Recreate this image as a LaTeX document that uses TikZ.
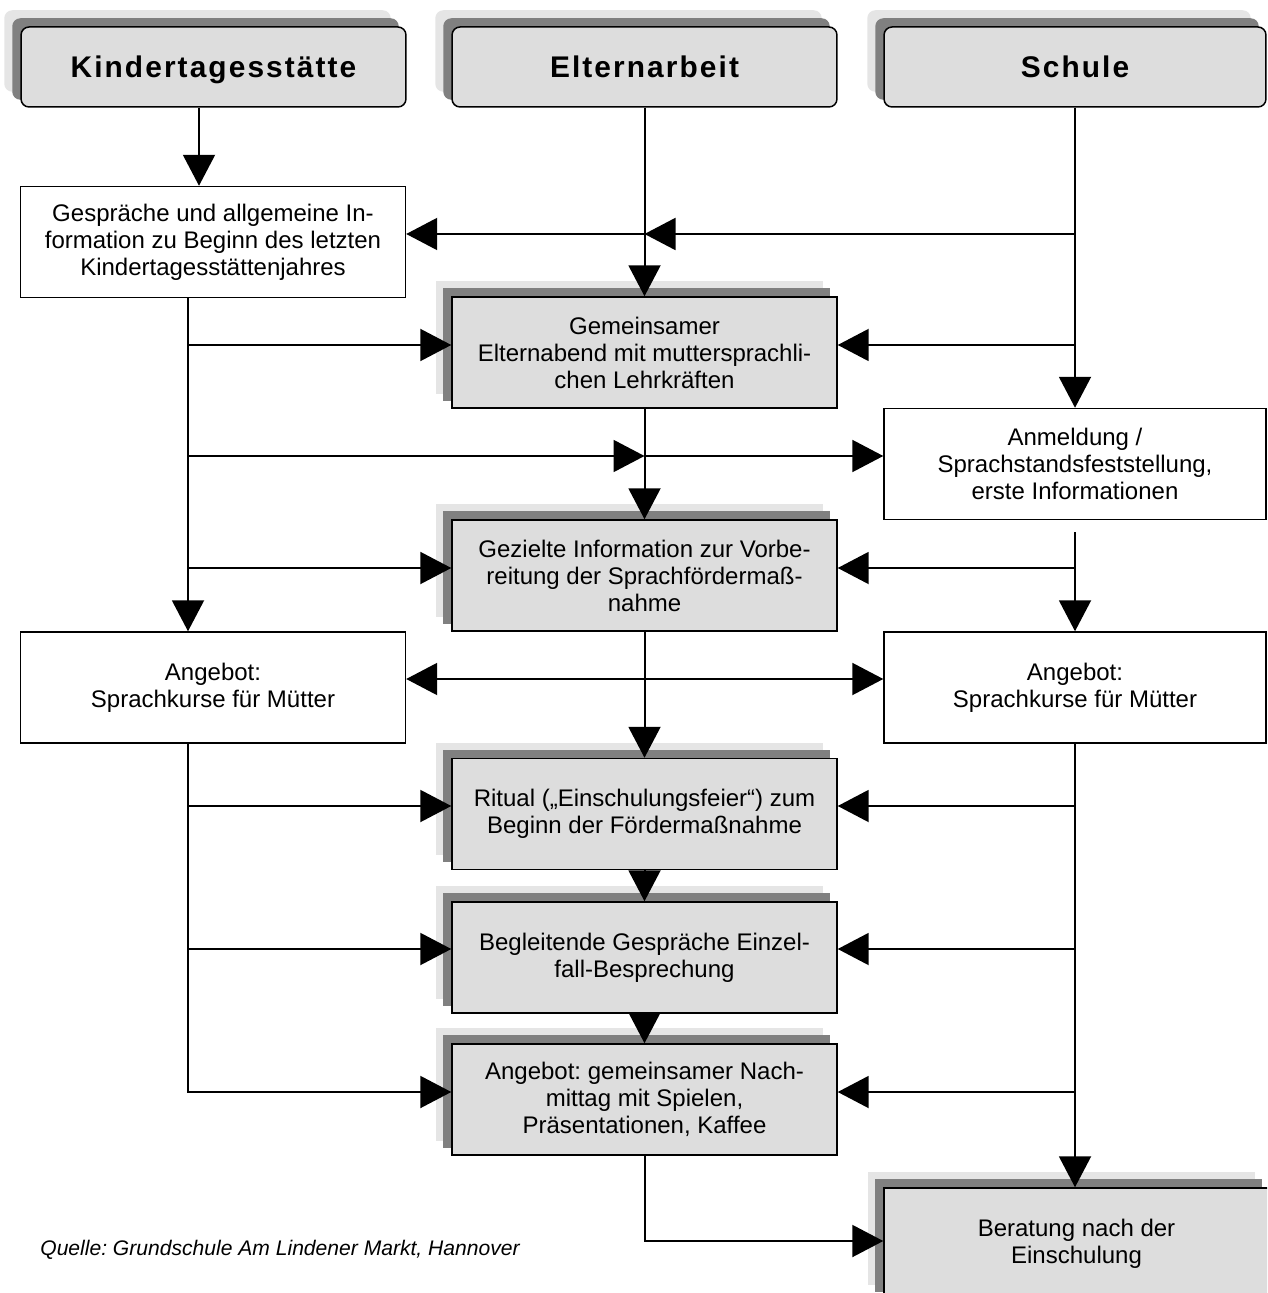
\documentclass[tikz,border=0pt]{standalone}
\usepackage{fontspec}
\setmainfont{Liberation Sans}
\newfontfamily\hdfont[LetterSpace=7]{Liberation Sans}
\usetikzlibrary{arrows.meta,backgrounds,calc}
\definecolor{boxgray}{HTML}{DDDDDD}
\definecolor{shdark}{HTML}{808080}
\definecolor{shlight}{HTML}{E5E5E5}
\frenchspacing
\begin{document}
\begin{tikzpicture}[x=0.02cm,y=-0.02cm,
  base/.style={rectangle, draw=black, line width=0.03cm, minimum width=7.7cm, minimum height=2.22cm, align=center, inner sep=0pt, font=\fontsize{13.66}{15.4}\selectfont},
  whitebox/.style={base, fill=white},
  graybox/.style={base, fill=boxgray},
  rbox/.style={minimum width=7.64cm},
  headbox/.style={base, fill=boxgray, rounded corners=0.16cm, minimum height=1.6cm, text height=12.4pt, text depth=0.4pt, font=\hdfont\bfseries\fontsize{17}{20}\selectfont},
  arr/.style={line width=0.04cm, -{Triangle[length=0.62cm,width=0.64cm]}},
  arrr/.style={line width=0.04cm, {Triangle[length=0.62cm,width=0.64cm]}-{Triangle[length=0.62cm,width=0.64cm]}},
  ln/.style={line width=0.04cm},
]
\useasboundingbox (0,0) rectangle (1267,1293);
\clip (0,0) rectangle (1267,1293);

% column and row coordinates
\coordinate (cK1) at (199,0);
\coordinate (cK) at (188,0);
\coordinate (cE) at (644.5,0);
\coordinate (cS) at (1075,0);
\coordinate (rA) at (0,234);
\coordinate (rB) at (0,345);
\coordinate (rC) at (0,456);
\coordinate (rD) at (0,568);
\coordinate (rE) at (0,679);
\coordinate (rF) at (0,806);
\coordinate (rG) at (0,949);
\coordinate (rH) at (0,1092);
\coordinate (rI) at (0,1241);

% headers
\node[headbox] (kita) at (213.5,67) {Kindertagesstätte};
\node[headbox] (eltern) at (644.5,67) {Elternarbeit};
\node[headbox, rbox] (schule) at (1075,67) {Schule};

% white boxes
\node[whitebox] (gesp) at (213,242) {Gespräche und allgemeine In-\\formation zu Beginn des letzten\\Kindertagesstättenjahres};
\node[whitebox, rbox] (anm) at (1075,464) {Anmeldung /\\Sprachstandsfeststellung,\\erste Informationen};
\node[whitebox] (angL) at (213,687.5) {Angebot:\\Sprachkurse für Mütter};
\node[whitebox, rbox] (angR) at (1075,687.5) {Angebot:\\Sprachkurse für Mütter};

% gray boxes
\node[graybox] (gem) at (644.5,352.5) {Gemeinsamer\\Elternabend mit muttersprachli-\\chen Lehrkräften};
\node[graybox] (gez) at (644.5,575.5) {Gezielte Information zur Vorbe-\\reitung der Sprachfördermaß-\\nahme};
\node[graybox] (rit) at (644.5,814) {Ritual („Einschulungsfeier“) zum\\Beginn der Fördermaßnahme};
\node[graybox] (beg) at (644.5,957.5) {Begleitende Gespräche Einzel-\\fall-Besprechung};
\node[graybox] (nach) at (644.5,1099.5) {Angebot: gemeinsamer Nach-\\mittag mit Spielen,\\Präsentationen, Kaffee};
\node[graybox] (ber) at (1076.5,1243.5) {Beratung nach der\\Einschulung};

\node[anchor=west, inner sep=0pt, font=\itshape\fontsize{12}{14}\selectfont] (src) at (40,1250) {Quelle: Grundschule Am Lindener Markt, Hannover};

% page background and shadows
\begin{pgfonlayer}{background}
\fill[white] (0,0) rectangle (1267,1293);
\foreach \n in {gem,gez,rit,beg,nach,ber}{
  \fill[shlight] ([shift={(-15,-15)}]\n.south west) rectangle ([shift={(-15,-15)}]\n.north east);
  \fill[shdark] ([shift={(-8,-8)}]\n.south west) rectangle ([shift={(-8,-8)}]\n.north east);
}
\foreach \n in {kita,eltern,schule}{
  \fill[shlight, rounded corners=0.16cm] ([shift={(-16,-16)}]\n.south west) rectangle ([shift={(-16,-16)}]\n.north east);
  \fill[shdark, rounded corners=0.16cm] ([shift={(-8,-8)}]\n.south west) rectangle ([shift={(-8,-8)}]\n.north east);
}
\end{pgfonlayer}

% Kita column
\draw[arr] (kita.south -| cK1) -- (gesp.north -| cK1);
\draw[arr] (gesp.south -| cK) -- (angL.north -| cK);
\draw[arr] (cK |- rB) -- (gem.west |- rB);
\draw[arr] (cK |- rC) -- (cE |- rC);
\draw[arr] (cE |- rC) -- (anm.west |- rC);
\draw[arr] (cK |- rD) -- (gez.west |- rD);
\draw[arr] (angL.south -| cK) |- (nach.west |- rH);
\draw[arr] (cK |- rF) -- (rit.west |- rF);
\draw[arr] (cK |- rG) -- (beg.west |- rG);

% Eltern column
\draw[arr] (eltern.south) -- (gem.north);
\draw[arr] (gem.south) -- (gez.north);
\draw[arr] (gez.south) -- (rit.north);
\draw[arr] (rit.south) -- (beg.north);
\draw[arr] (beg.south) -- (nach.north);
\draw[arr] (nach.south) |- (ber.west |- rI);
\draw[arrr] (angL.east |- rE) -- (angR.west |- rE);

% Schule column
\draw[arr] (schule.south -| cS) -- (anm.north -| cS);
\draw[arr] (cS |- rA) -- (cE |- rA);
\draw[arr] (cE |- rA) -- (gesp.east |- rA);
\draw[arr] (cS |- rB) -- (gem.east |- rB);
\draw[arr] ([yshift=-0.24cm]anm.south) -- (angR.north);
\draw[arr] (cS |- rD) -- (gez.east |- rD);
\draw[arr] (angR.south) -- (ber.north -| cS);
\draw[arr] (cS |- rF) -- (rit.east |- rF);
\draw[arr] (cS |- rG) -- (beg.east |- rG);
\draw[arr] (cS |- rH) -- (nach.east |- rH);
\end{tikzpicture}
\end{document}
